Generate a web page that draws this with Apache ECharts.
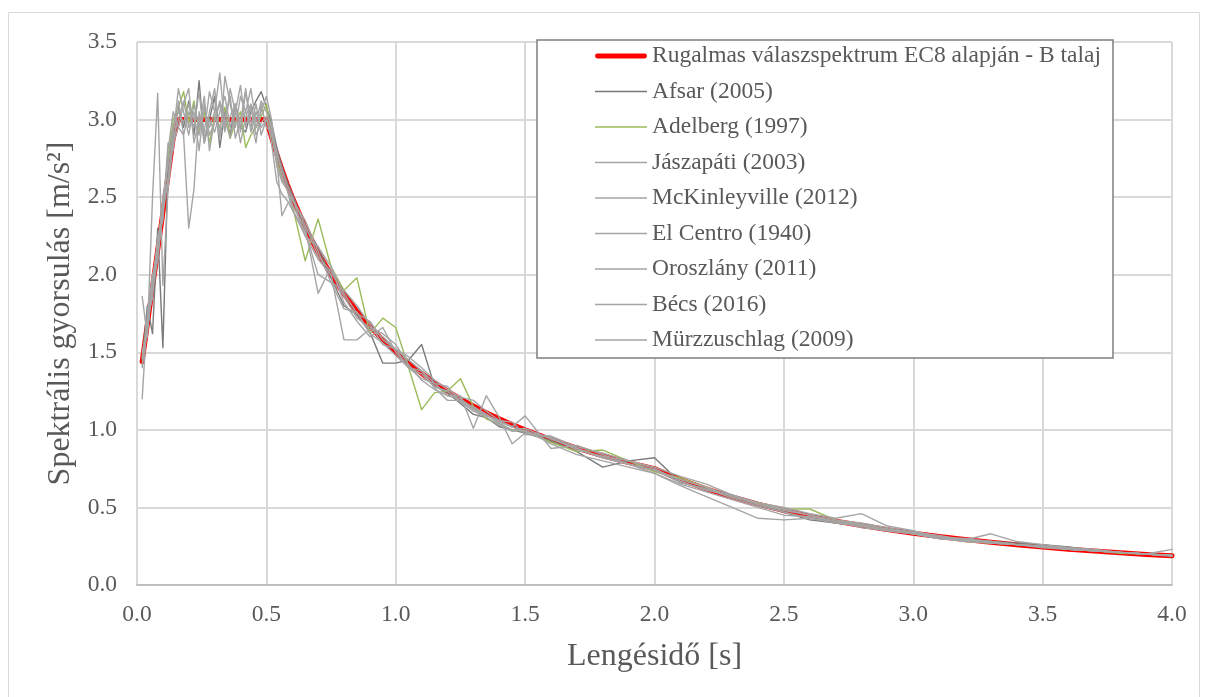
<!DOCTYPE html>
<html>
<head>
<meta charset="utf-8">
<script src="https://cdn.jsdelivr.net/npm/echarts@6/dist/echarts.min.js"></script>
<style>
  html, body { margin: 0; padding: 0; background: #fff; }
  #chart { width: 1208px; height: 697px; }
</style>
</head>
<body>
<div id="chart"></div>
<script>
// periódusok (s)
var periods = [0.02, 0.04, 0.06, 0.08, 0.10, 0.12, 0.14,
    0.16, 0.18, 0.20, 0.22, 0.24, 0.26, 0.28, 0.30, 0.32, 0.34, 0.36, 0.38, 0.40, 0.42, 0.44, 0.46, 0.48, 0.50,
    0.52, 0.54, 0.56, 0.58, 0.60,
    0.65, 0.70, 0.75, 0.80, 0.85, 0.90, 0.95, 1.00, 1.05, 1.10, 1.15, 1.20, 1.25, 1.30, 1.35, 1.40, 1.45, 1.50,
    1.6, 1.7, 1.8, 1.9, 2.0, 2.1, 2.2, 2.3, 2.4, 2.5, 2.6, 2.7, 2.8, 2.9, 3.0, 3.1, 3.2, 3.3, 3.4, 3.5, 3.6, 3.7, 3.8, 3.9, 4.0];

var xTicks = ['0.0', '0.5', '1.0', '1.5', '2.0', '2.5', '3.0', '3.5', '4.0'];
var yTicks = ['0.0', '0.5', '1.0', '1.5', '2.0', '2.5', '3.0', '3.5'];

var ec8 = [1.44, 1.68, 1.92, 2.16, 2.40, 2.64, 2.88,
    3.00, 3.00, 3.00, 3.00, 3.00, 3.00, 3.00, 3.00, 3.00, 3.00, 3.00, 3.00, 3.00, 3.00, 3.00, 3.00, 3.00, 3.00,
    2.885, 2.778, 2.679, 2.586, 2.50,
    2.308, 2.143, 2.00, 1.875, 1.765, 1.667, 1.579, 1.50, 1.429, 1.364, 1.304, 1.25, 1.20, 1.154, 1.111, 1.071, 1.034, 1.00,
    0.938, 0.882, 0.833, 0.789, 0.75, 0.680, 0.620, 0.567, 0.521, 0.48, 0.444, 0.412, 0.383, 0.357, 0.333, 0.312, 0.293, 0.275, 0.260, 0.245, 0.231, 0.219, 0.208, 0.197, 0.188];

var afsar = [1.45, 1.80, 1.62, 2.30, 1.53, 2.70, 2.95,
    3.08, 2.95, 3.12, 2.90, 3.25, 2.85, 3.00, 3.15, 2.82, 3.05, 2.90, 3.10, 2.95, 2.92, 3.05, 3.12, 3.18, 3.08,
    2.98, 2.82, 2.70, 2.60, 2.52,
    2.30, 2.18, 1.98, 1.80, 1.74, 1.63, 1.43, 1.43, 1.45, 1.55, 1.28, 1.24, 1.17, 1.10, 1.08, 1.02, 1.00, 0.98,
    0.93, 0.86, 0.76, 0.80, 0.82, 0.66, 0.62, 0.58, 0.52, 0.47, 0.42, 0.40, 0.38, 0.36, 0.33, 0.30, 0.29, 0.28, 0.27, 0.26, 0.245, 0.225, 0.21, 0.20, 0.19];

var adelberg = [1.47, 1.70, 1.95, 2.20, 2.45, 2.75, 3.00,
    3.08, 3.18, 2.98, 3.12, 2.92, 3.05, 2.85, 3.02, 2.95, 3.08, 2.88, 2.98, 3.05, 2.82, 2.90, 2.95, 3.02, 3.10,
    2.90, 2.75, 2.62, 2.55, 2.45,
    2.09, 2.36, 2.05, 1.90, 1.98, 1.62, 1.72, 1.66, 1.40, 1.13, 1.24, 1.25, 1.33, 1.15, 1.07, 1.04, 1.00, 0.99,
    0.92, 0.86, 0.87, 0.80, 0.73, 0.69, 0.63, 0.57, 0.53, 0.49, 0.49, 0.42, 0.39, 0.36, 0.33, 0.31, 0.28, 0.27, 0.26, 0.245, 0.23, 0.22, 0.205, 0.20, 0.19];

var jaszapati = [1.86, 1.60, 2.50, 3.17, 1.93, 2.55, 2.85,
    2.95, 2.90, 2.30, 2.55, 3.05, 2.85, 3.05, 3.20, 2.90, 3.02, 3.15, 2.88, 3.00, 3.05, 2.95, 3.10, 2.90, 3.00,
    2.90, 2.80, 2.65, 2.55, 2.45,
    2.30, 1.88, 2.05, 1.88, 1.75, 1.70, 1.58, 1.52, 1.40, 1.33, 1.30, 1.22, 1.22, 1.01, 1.22, 1.08, 0.91, 0.98,
    0.95, 0.88, 0.82, 0.78, 0.74, 0.66, 0.62, 0.56, 0.51, 0.47, 0.43, 0.40, 0.38, 0.35, 0.33, 0.30, 0.29, 0.28, 0.26, 0.25, 0.23, 0.22, 0.21, 0.20, 0.19];

var mckinleyville = [1.20, 1.75, 2.00, 2.10, 2.40, 2.60, 2.90,
    3.20, 3.05, 2.90, 3.10, 2.95, 3.15, 2.80, 3.00, 3.10, 2.92, 3.20, 3.05, 2.85, 3.02, 3.10, 2.95, 3.05, 3.15,
    3.00, 2.75, 2.38, 2.45, 2.50,
    2.25, 2.10, 2.00, 1.58, 1.58, 1.65, 1.60, 1.52, 1.45, 1.38, 1.30, 1.28, 1.18, 1.15, 1.10, 1.05, 1.02, 1.09,
    0.88, 0.90, 0.84, 0.78, 0.72, 0.64, 0.57, 0.50, 0.43, 0.42, 0.43, 0.41, 0.39, 0.36, 0.33, 0.31, 0.29, 0.27, 0.26, 0.25, 0.23, 0.22, 0.21, 0.20, 0.19];

var elcentro = [1.40, 1.72, 1.85, 2.25, 2.35, 2.80, 3.05,
    2.95, 3.10, 3.20, 2.85, 3.00, 2.92, 3.18, 3.05, 2.88, 3.28, 3.10, 2.95, 3.15, 3.05, 3.20, 2.98, 3.12, 3.05,
    2.95, 2.70, 2.60, 2.55, 2.48,
    2.35, 2.15, 1.95, 1.90, 1.80, 1.68, 1.55, 1.52, 1.47, 1.40, 1.32, 1.26, 1.21, 1.19, 1.12, 1.06, 1.05, 0.97,
    0.96, 0.89, 0.85, 0.80, 0.76, 0.70, 0.65, 0.58, 0.53, 0.50, 0.46, 0.43, 0.46, 0.38, 0.35, 0.31, 0.30, 0.28, 0.26, 0.25, 0.23, 0.22, 0.21, 0.20, 0.19];

var oroszlany = [1.50, 1.65, 1.90, 2.10, 2.50, 2.70, 2.95,
    3.05, 2.98, 3.10, 3.00, 2.90, 3.08, 2.95, 3.05, 3.30, 2.95, 3.02, 3.10, 2.92, 3.18, 3.00, 2.85, 3.10, 2.95,
    2.92, 2.78, 2.68, 2.58, 2.50,
    2.32, 2.12, 2.02, 1.86, 1.72, 1.66, 1.62, 1.55, 1.42, 1.32, 1.26, 1.22, 1.20, 1.14, 1.10, 1.04, 1.00, 1.01,
    0.94, 0.88, 0.82, 0.78, 0.74, 0.68, 0.63, 0.57, 0.52, 0.48, 0.45, 0.41, 0.38, 0.36, 0.34, 0.32, 0.29, 0.33, 0.28, 0.26, 0.24, 0.23, 0.21, 0.20, 0.19];

var becs = [1.42, 1.68, 1.98, 2.20, 2.45, 2.62, 2.88,
    3.00, 3.12, 2.95, 3.05, 2.80, 3.10, 2.90, 2.98, 3.12, 3.00, 2.88, 3.05, 3.22, 2.95, 3.08, 2.90, 2.98, 3.02,
    2.85, 2.60, 2.52, 2.48, 2.42,
    2.28, 2.00, 1.95, 1.78, 1.76, 1.62, 1.56, 1.48, 1.40, 1.36, 1.28, 1.25, 1.18, 1.12, 1.08, 1.03, 0.99, 1.00,
    0.91, 0.84, 0.80, 0.76, 0.72, 0.65, 0.60, 0.55, 0.50, 0.45, 0.44, 0.41, 0.37, 0.35, 0.33, 0.30, 0.28, 0.27, 0.26, 0.24, 0.23, 0.22, 0.21, 0.20, 0.23];

var murzzuschlag = [1.46, 1.62, 1.95, 2.15, 2.38, 2.85, 2.80,
    3.12, 2.90, 3.05, 2.95, 3.18, 2.88, 3.00, 2.92, 3.05, 3.15, 2.95, 3.10, 2.98, 3.20, 2.92, 3.05, 2.95, 3.00,
    2.92, 2.72, 2.62, 2.55, 2.42,
    2.25, 2.18, 2.05, 1.82, 1.70, 1.60, 1.66, 1.50, 1.40, 1.38, 1.27, 1.19, 1.19, 1.13, 1.09, 1.06, 1.02, 0.99,
    0.95, 0.87, 0.83, 0.80, 0.75, 0.67, 0.61, 0.58, 0.52, 0.49, 0.45, 0.42, 0.40, 0.37, 0.34, 0.31, 0.29, 0.28, 0.26, 0.25, 0.24, 0.22, 0.21, 0.20, 0.185];

var seriesNames = ['Rugalmas válaszspektrum EC8 alapján - B talaj', 'Afsar (2005)', 'Adelberg (1997)',
    'Jászapáti (2003)', 'McKinleyville (2012)', 'El Centro (1940)', 'Oroszlány (2011)', 'Bécs (2016)', 'Mürzzuschlag (2009)'];
var seriesValues = [ec8, afsar, adelberg, jaszapati, mckinleyville, elcentro, oroszlany, becs, murzzuschlag];
var seriesColors = ['#ff0000', '#7a7a7a', '#9bbb59', '#a5a5a5', '#a5a5a5', '#a5a5a5', '#a5a5a5', '#a5a5a5', '#a5a5a5'];

var FONT = '"Liberation Serif", "Times New Roman", serif';

// legend ikonok: vastag piros / vékony szürke vonal
var ICON_THICK = 'path://M2,0 L50,0 A2.5,2.5 0 0 1 50,5 L2,5 A2.5,2.5 0 0 1 2,0 Z';
var ICON_THIN = 'path://M0,0 L52,0 L52,1.5 L0,1.5 Z';

//pontpárok
function pairs(values) {
    return periods.map(function (p, i) { return [p, values[i]]; });
}

function buildSeries() {
    return seriesValues.map(function (vals, i) {
        return {
            name: seriesNames[i],
            type: 'line',
            data: pairs(vals),
            symbol: 'none',
            color: seriesColors[i],
            lineStyle: { width: i === 0 ? 5 : 1.4, color: seriesColors[i], cap: 'round', join: 'round' },
            z: i === 0 ? 2 : 3
        };
    });
}

function buildLegendData() {
    return seriesNames.map(function (n, i) {
        return { name: n, icon: i === 0 ? ICON_THICK : ICON_THIN };
    });
}

var myChart = echarts.init(document.getElementById('chart'));
var option = {
    animation: false,
    backgroundColor: '#fff',
    textStyle: { fontFamily: FONT },
    graphic: [{
        type: 'rect',
        shape: { x: 8.5, y: 12.5, width: 1191, height: 700 },
        style: { fill: 'none', stroke: '#d9d9d9', lineWidth: 1 },
        silent: true
    }],
    grid: { left: 137, right: 36, top: 42, bottom: 112, outerBoundsMode: 'none' },
    legend: {
        orient: 'vertical',
        left: 537,
        top: 40,
        padding: [3, 12, 5, 58],
        itemWidth: 52,
        itemHeight: 14,
        itemGap: 9.5,
        backgroundColor: '#fff',
        borderColor: '#7f7f7f',
        borderWidth: 1.5,
        borderRadius: 0,
        data: buildLegendData(),
        textStyle: { fontFamily: FONT, fontSize: 23.5, color: '#595959', lineHeight: 26 }
    },
    xAxis: {
        type: 'value',
        min: 0,
        max: 4,
        interval: 0.5,
        name: 'Lengésidő [s]',
        nameLocation: 'middle',
        nameGap: 56,
        nameTextStyle: { fontFamily: FONT, fontSize: 32, color: '#595959' },
        axisLine: { show: true, lineStyle: { color: '#bfbfbf', width: 2 } },
        axisTick: { show: false },
        axisLabel: {
            margin: 18,
            fontFamily: FONT, fontSize: 23.5, color: '#595959',
            formatter: function (v) { return xTicks[Math.round(v / 0.5)]; }
        },
        splitLine: { show: true, lineStyle: { color: '#d9d9d9', width: 2 } }
    },
    yAxis: {
        type: 'value',
        min: 0,
        max: 3.5,
        interval: 0.5,
        name: 'Spektrális gyorsulás [m/s²]',
        nameLocation: 'middle',
        nameGap: 56,
        nameTextStyle: { fontFamily: FONT, fontSize: 32, color: '#595959' },
        axisLine: { show: false },
        axisTick: { show: false },
        axisLabel: {
            margin: 20,
            fontFamily: FONT, fontSize: 23.5, color: '#595959',
            formatter: function (v) { return yTicks[Math.round(v / 0.5)]; }
        },
        splitLine: { show: true, lineStyle: { color: '#d9d9d9', width: 2 } }
    },
    series: buildSeries()
};
myChart.setOption(option);
</script>
</body>
</html>
